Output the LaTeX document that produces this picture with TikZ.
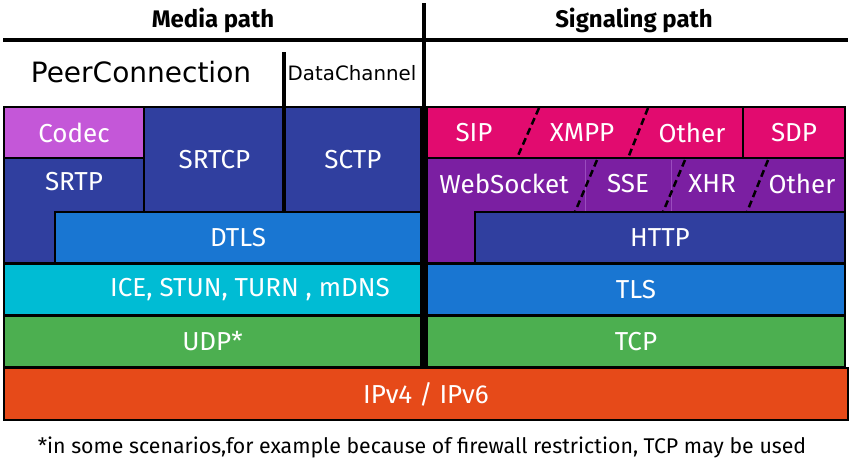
\documentclass[tikz,border=0pt]{standalone}
\usepackage{fontspec}
\setmainfont{Fira Sans}
\newfontfamily\djv{DejaVu Sans}
\definecolor{cCodec}{HTML}{C457D8}
\definecolor{cNavy}{HTML}{303F9F}
\definecolor{cBlue}{HTML}{1976D2}
\definecolor{cCyan}{HTML}{00BCD4}
\definecolor{cGreen}{HTML}{4CAF50}
\definecolor{cOrange}{HTML}{E64A19}
\definecolor{cPink}{HTML}{E20B6F}
\definecolor{cPurple}{HTML}{7B1FA2}
\definecolor{cPurpleLine}{HTML}{9A4BBE}
\tikzset{
  layer/.style={draw=black, line width=2.5pt, fill=#1, inner sep=0pt, outer sep=0pt,
    text=white, font=\fontsize{26}{30}\selectfont},
  lbl/.style={text=white, inner sep=0pt, font=\fontsize{26}{30}\selectfont},
  heavy/.style={line width=4pt, black},
  sep/.style={line width=2.5pt, black, dash pattern=on 7pt off 4pt},
}
\begin{document}
\begin{tikzpicture}[x=1pt,y=-1pt]
\useasboundingbox (0,0) rectangle (850,464);
% ---------- media side ----------
\filldraw[line width=2.5pt, fill=cNavy] (4,158) -- (144,158) -- (144,212) -- (55,212) -- (55,263) -- (4,263) -- cycle;
\node[lbl] (srtp) at (74,182) {SRTP};
\node[layer=cCodec, anchor=north west, minimum width=140pt, minimum height=51pt] (codec) at (4,107) {Codec};
\node[layer=cNavy, anchor=north west, minimum width=141pt, minimum height=105pt] (srtcp) at (144,107) {SRTCP};
\node[layer=cNavy, anchor=north west, minimum width=136pt, minimum height=105pt] (sctp) at (285,107) {SCTP};
\node[layer=cBlue, anchor=north west, minimum width=366pt, minimum height=51pt] (dtls) at (55,212) {DTLS};
\node[layer=cCyan, anchor=north west, minimum width=417pt, minimum height=51pt] (ice) at (4,264) {};
\node[lbl] (icel) at (250,290) {ICE, STUN, TURN , mDNS};
\node[layer=cGreen, anchor=north west, minimum width=417pt, minimum height=51pt] (udp) at (4,316) {UDP*};
% ---------- signaling side ----------
\filldraw[line width=2.5pt, fill=cPurple] (427,158) -- (845,158) -- (845,212) -- (475,212) -- (475,263) -- (427,263) -- cycle;
\draw[cPurpleLine, line width=0.8pt] (585,160) -- (585,211) (671,160) -- (671,211);
\node[lbl] (ws) at (504,184) {WebSocket};
\node[lbl] (sse) at (628,184) {SSE};
\node[lbl] (xhr) at (712,184) {XHR};
\node[lbl] (oth2) at (802,184) {Other};
\draw[sep] (597,160) -- (575,212);
\draw[sep] (685,160) -- (663,212);
\draw[sep] (768,160) -- (747,212);
\node[layer=cPink, anchor=north west, minimum width=316pt, minimum height=51pt] (sigrow) at (427,107) {};
\node[lbl] (sip) at (474,133) {SIP};
\node[lbl] (xmpp) at (582,133) {XMPP};
\node[lbl] (oth1) at (692,133) {Other};
\draw[sep] (539,108) -- (517,158);
\draw[sep] (648,108) -- (628,158);
\node[layer=cPink, anchor=north west, minimum width=102pt, minimum height=51pt] (sdp) at (743,107) {SDP};
\node[layer=cNavy, anchor=north west, minimum width=370pt, minimum height=51pt] (http) at (475,212) {HTTP};
\node[layer=cBlue, anchor=north west, minimum width=418pt, minimum height=51pt] (tls) at (427,264) {TLS};
\node[layer=cGreen, anchor=north west, minimum width=418pt, minimum height=51pt] (tcp) at (427,316) {TCP};
% ---------- common ----------
\node[layer=cOrange, anchor=north west, minimum width=844pt, minimum height=52pt] (ip) at (4,368) {IPv4 / IPv6};
% ---------- headings and separators ----------
\coordinate (tl) at (3,40);
\coordinate (tr) at (848,40);
\coordinate (vt) at (424,3);
\coordinate (dct) at (284,52);
\draw[heavy] (tl) -- (tr);
\draw[heavy] (vt) -- (vt |- ip.north);
\draw[heavy] (dct) -- (dct |- dtls.north);
\node[font=\fontsize{24}{28}\selectfont\bfseries] (media) at (213,20) {Media path};
\node[font=\fontsize{24}{28}\selectfont\bfseries] (signal) at (634,20) {Signaling path};
\node[font=\djv\fontsize{28}{32}\selectfont] (pc) at (141,72) {PeerConnection};
\node[font=\djv\fontsize{19.8}{23}\selectfont] (dc) at (352,73) {DataChannel};
\node[font=\fontsize{21.3}{25}\selectfont] (note) at (422,447) {*in some scenarios,for example because of firewall restriction, TCP may be used};
\end{tikzpicture}
\end{document}
